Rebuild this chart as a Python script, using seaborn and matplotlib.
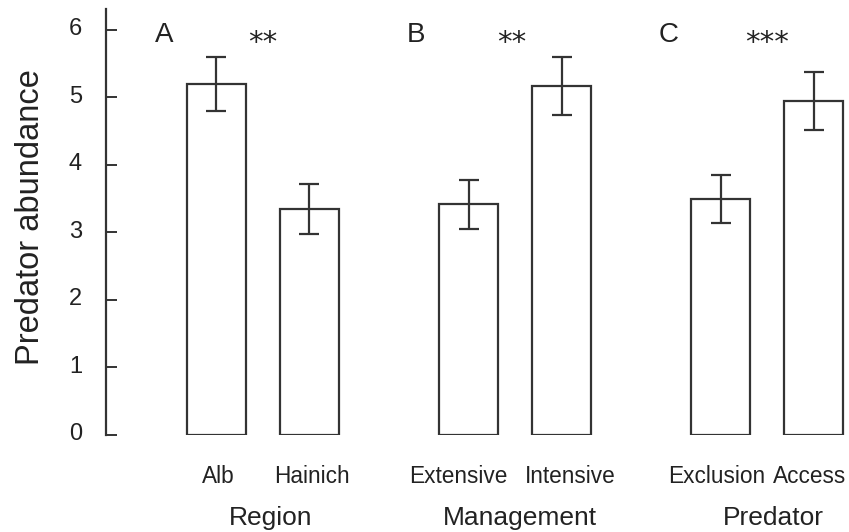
import numpy as np
import pandas as pd
import matplotlib
matplotlib.use("Agg")
import matplotlib.pyplot as plt
import matplotlib.transforms as mtransforms
import seaborn as sns

# ---- data ----
categories = ["Alb", "Hainich", "Extensive", "Intensive", "Exclusion", "Access"]
means = [5.20, 3.34, 3.41, 5.17, 3.49, 4.94]
errors = [0.40, 0.37, 0.36, 0.43, 0.36, 0.43]
positions = [0.0, 1.0, 2.71, 3.71, 5.42, 6.42]
group_titles = ["Region", "Management", "Predator"]
panel_letters = ["A", "B", "C"]
significance = ["**", "**", "***"]
y_ticks = [0, 1, 2, 3, 4, 5, 6]

# small horizontal nudges (pixels) of tick labels, as in the original layout
label_nudges = [1.5, 3, -10, 9, -4, -4]

sns.set_theme(style="white")
plt.rcParams["font.family"] = ["Liberation Sans", "DejaVu Sans"]

INK = "#333333"
TXT = "#222222"
df = pd.DataFrame({"pos": positions, "mean": means, "cat": categories})

fig = plt.figure(figsize=(8.49, 5.32), dpi=100)
ax = fig.add_axes([105.7 / 849, (532 - 434.7) / 532, 1 - 105.7 / 849, (434.7 - 9.3) / 532])

sns.barplot(data=df, x="pos", y="mean", native_scale=True, width=0.63,
            color="white", edgecolor=INK, linewidth=1.6, errorbar=None, ax=ax)
ax.errorbar(df["pos"], df["mean"], yerr=errors, fmt="none", ecolor=INK,
            elinewidth=1.6, capsize=7, capthick=1.6)

ax.set_xlim(-1.19, 6.80)
ax.set_ylim(0, 6.3)
ax.set_yticks(y_ticks)
ax.set_yticklabels([str(t) for t in y_ticks], fontsize=17, color=TXT)
ax.set_xticks(positions)
ax.set_xticklabels(categories, fontsize=16.3, color=TXT)
ax.tick_params(axis="y", left=True, direction="in", length=8, width=1.4,
               color=INK, pad=17)
ax.tick_params(axis="x", bottom=False, length=0, pad=22)
for lbl, dx in zip(ax.get_xticklabels(), label_nudges):
    lbl.set_transform(lbl.get_transform() +
                      mtransforms.ScaledTranslation(dx / 100, 0, fig.dpi_scale_trans))
for lbl in ax.get_yticklabels():
    lbl.set_transform(lbl.get_transform() +
                      mtransforms.ScaledTranslation(0, 3 / 100, fig.dpi_scale_trans))
for s in ["top", "right", "bottom"]:
    ax.spines[s].set_visible(False)
ax.spines["left"].set_color(INK)
ax.spines["left"].set_linewidth(1.6)
ax.set_xlabel("")
ax.set_ylabel("Predator abundance", fontsize=23.5, color=TXT)
ax.yaxis.set_label_coords(-0.080, 0.512)

# group labels, panel letters, significance stars
title_dx = [0.08, 0.05, 0.07]
star_dx = [0.0, -0.04, 0.0]
for g in range(3):
    left, right = positions[2 * g], positions[2 * g + 1]
    mid = (left + right) / 2
    ax.text(mid + title_dx[g], -1.337, group_titles[g], ha="center", va="baseline",
            fontsize=19, color=TXT, clip_on=False)
    ax.text(left - 0.56, 5.81, panel_letters[g], ha="center", va="baseline",
            fontsize=20, color=TXT)
    ax.text(mid + star_dx[g], 5.80, significance[g], ha="center", va="center",
            fontsize=21, color=TXT, family="DejaVu Sans")

fig.savefig("out.png", dpi=100)
